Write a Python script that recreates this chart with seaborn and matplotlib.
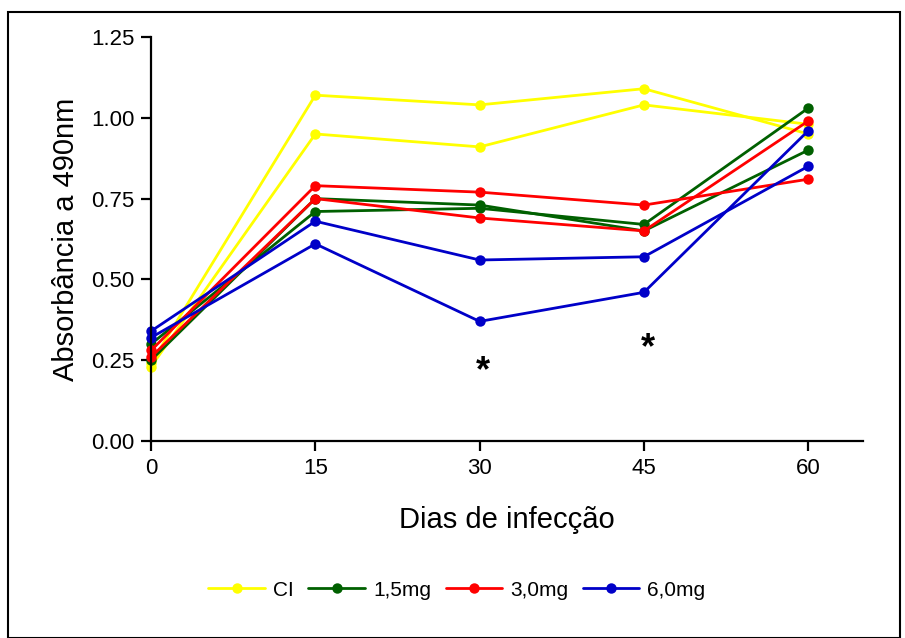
import pandas as pd
import matplotlib
matplotlib.use("Agg")
import matplotlib.pyplot as plt
from matplotlib.patches import Rectangle
import seaborn as sns

# dias de infecção
dias = [0, 15, 30, 45, 60]

# two curves per group
ci_a = [0.24, 1.07, 1.04, 1.09, 0.95]
ci_b = [0.23, 0.95, 0.91, 1.04, 0.98]
mg15_a = [0.25, 0.75, 0.73, 0.65, 0.90]
mg15_b = [0.30, 0.71, 0.72, 0.67, 1.03]
mg30_a = [0.28, 0.79, 0.77, 0.73, 0.81]
mg30_b = [0.26, 0.75, 0.69, 0.65, 0.99]
mg60_a = [0.34, 0.68, 0.56, 0.57, 0.85]
mg60_b = [0.32, 0.61, 0.37, 0.46, 0.96]

grupos = ["CI", "1,5mg", "3,0mg", "6,0mg"]
cores = ["#FFFF00", "#006000", "#FF0000", "#0000C8"]

# asterisks (day, absorbance)
asteriscos = [(30.3, 0.215), (45.4, 0.285)]


def main():
    series = {
        "CI": [ci_a, ci_b],
        "1,5mg": [mg15_a, mg15_b],
        "3,0mg": [mg30_a, mg30_b],
        "6,0mg": [mg60_a, mg60_b],
    }
    rows = []
    for g in grupos:
        for i, vals in enumerate(series[g]):
            for d, v in zip(dias, vals):
                rows.append({"dia": d, "abs": v, "grupo": g, "rep": i})
    df = pd.DataFrame(rows)

    sns.set_style("ticks")
    plt.rcParams["font.family"] = ["Liberation Sans", "DejaVu Sans"]
    for k in ["text.color", "axes.labelcolor", "xtick.color",
              "ytick.color", "axes.edgecolor"]:
        plt.rcParams[k] = "black"

    fig = plt.figure(figsize=(9.05, 6.38), dpi=100)
    ax = fig.add_axes([0.1669, 0.3088, 0.7867, 0.6332])
    ax = sns.lineplot(data=df, x="dia", y="abs", hue="grupo", units="rep",
                      estimator=None, hue_order=grupos, palette=cores,
                      marker="o", markersize=7.5, markeredgewidth=0,
                      linewidth=2.0, ax=ax, clip_on=False)

    ax.set_xlim(0, 65)
    ax.set_ylim(0, 1.25)
    ax.set_xticks(dias)
    ax.set_yticks([0, 0.25, 0.5, 0.75, 1.0, 1.25])
    ax.set_yticklabels(["0.00", "0.25", "0.50", "0.75", "1.00", "1.25"])
    sns.despine(ax=ax)
    for s in ["left", "bottom"]:
        ax.spines[s].set_linewidth(1.6)
    ax.tick_params(axis="both", labelsize=16, length=7, width=1.6, pad=5)
    ax.set_xlabel("Dias de infecção", fontsize=21, labelpad=20)
    ax.set_ylabel("Absorbância a 490nm", fontsize=21, labelpad=8)

    for x, y in asteriscos:
        ax.text(x, y, "*", fontsize=26, fontweight="bold", ha="center", va="center")

    sns.move_legend(ax, "center", bbox_to_anchor=(0.505, 0.075),
                    bbox_transform=fig.transFigure, ncol=4, frameon=False,
                    title=None, fontsize=15, handlelength=2.7,
                    handletextpad=0.4, columnspacing=0.7)

    fig.patches.append(Rectangle((8 / 905, 0), 892 / 905, 1 - 12 / 638,
                                 transform=fig.transFigure, fill=False,
                                 edgecolor="black", linewidth=1.5))
    fig.savefig("out.png", dpi=100)


if __name__ == "__main__":
    main()
